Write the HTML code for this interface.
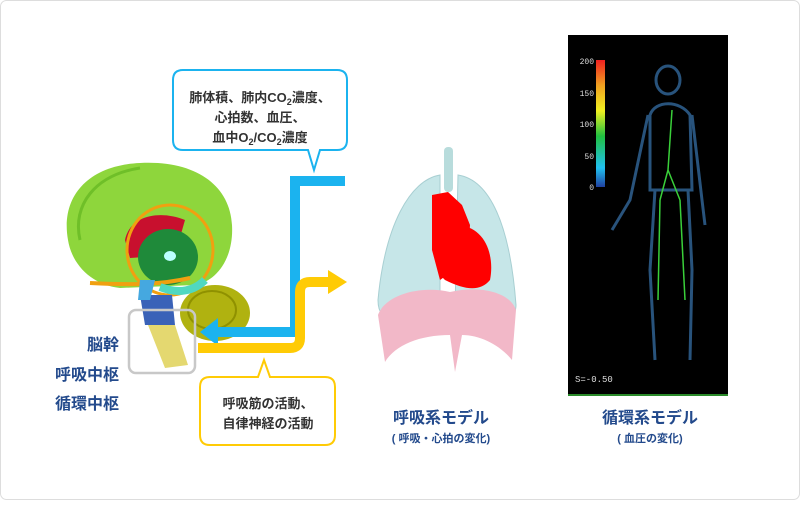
<!DOCTYPE html>
<html><head><meta charset="utf-8"><style>
html,body{margin:0;padding:0;background:#fff}
body{width:800px;height:500px;overflow:hidden;font-family:"Liberation Sans","Noto Sans CJK JP",sans-serif}
</style></head><body>
<svg width="800" height="500" xmlns="http://www.w3.org/2000/svg" font-family="Liberation Sans, Noto Sans CJK JP, sans-serif">
<rect x="0.5" y="0.5" width="799" height="499" rx="6" fill="#fff" stroke="#ddd"/>
<!-- brain -->
<ellipse cx="215" cy="313" rx="35" ry="28" fill="#b0b210"/>
<ellipse cx="212" cy="310" rx="24" ry="19" fill="none" stroke="#8f9100" stroke-width="2"/>
<path d="M68,240 C60,195 90,165 140,163 C195,160 230,185 232,225 C234,260 215,282 195,285 L120,288 C92,285 72,265 68,240Z" fill="#8ed63c"/>
<path d="M80,240 C72,205 95,175 140,168" fill="none" stroke="#6fbf28" stroke-width="3"/>
<path d="M125,240 C130,215 160,210 185,220 L175,255 L130,258Z" fill="#c8102e"/>
<ellipse cx="168" cy="257" rx="30" ry="28" fill="#1f8a3a"/>
<ellipse cx="170" cy="256" rx="6" ry="5" fill="#bff"/>
<path d="M90,283 C130,285 160,285 190,278" fill="none" stroke="#f0a010" stroke-width="4"/>
<ellipse cx="170" cy="250" rx="43" ry="45" fill="none" stroke="#f0a010" stroke-width="3"/>
<path d="M160,287 C180,295 195,290 205,280" fill="none" stroke="#50d8c0" stroke-width="8"/>
<path d="M140,295 L172,295 L175,325 L145,325Z" fill="#3a62b8"/>
<path d="M140,280 L155,280 L150,300 L138,300Z" fill="#45a8e0"/>
<path d="M148,325 L175,325 L188,365 L165,368Z" fill="#e4d870"/>
<rect x="129" y="310" width="66" height="63" rx="7" fill="none" stroke="#c8c8c8" stroke-width="2.5"/>
<!-- arrows -->
<path d="M345,181 L295,181 L295,332 L215,332" fill="none" stroke="#1bb3ef" stroke-width="10"/>
<polygon points="200,332 218,318 218,346" fill="#1bb3ef"/>
<path d="M198,348 L290,348 Q300,348 300,338 L300,292 Q300,282 310,282 L330,282" fill="none" stroke="#ffcb05" stroke-width="10"/>
<polygon points="347,282 328,270 328,294" fill="#ffcb05"/>
<!-- blue bubble -->
<path d="M183,70 L337,70 Q347,70 347,80 L347,140 Q347,150 337,150 L320,150 L314,170 L308,150 L183,150 Q173,150 173,140 L173,80 Q173,70 183,70Z" fill="#fff" stroke="#1bb3ef" stroke-width="2"/>
<g font-size="13" font-weight="bold" fill="#333" text-anchor="middle">
<text x="260" y="102">肺体積、肺内CO<tspan font-size="9" dy="3">2</tspan><tspan dy="-3">濃度、</tspan></text>
<text x="260" y="122">心拍数、血圧、</text>
<text x="260" y="142">血中O<tspan font-size="9" dy="3">2</tspan><tspan dy="-3">/CO</tspan><tspan font-size="9" dy="3">2</tspan><tspan dy="-3">濃度</tspan></text>
</g>
<!-- yellow bubble -->
<path d="M210,377 L258,377 L264,360 L270,377 L325,377 Q335,377 335,387 L335,435 Q335,445 325,445 L210,445 Q200,445 200,435 L200,387 Q200,377 210,377Z" fill="#fff" stroke="#ffcb05" stroke-width="2"/>
<g font-size="13" font-weight="bold" fill="#333" text-anchor="middle">
<text x="268" y="408">呼吸筋の活動、</text>
<text x="268" y="428">自律神経の活動</text>
</g>
<!-- left labels -->
<g font-size="16" font-weight="bold" fill="#234a8c" text-anchor="end">
<text x="119" y="350">脳幹</text>
<text x="119" y="380">呼吸中枢</text>
<text x="119" y="409">循環中枢</text>
</g>
<!-- lungs -->
<rect x="444" y="147" width="9" height="45" rx="4" fill="#b8dcdc"/>
<path d="M440,175 C410,180 385,225 378,300 C378,315 385,320 400,318 L440,310Z" fill="#c6e6e8" stroke="#a8cfd2"/>
<path d="M458,175 C490,180 510,225 516,305 C516,318 505,320 495,318 L455,310Z" fill="#c6e6e8" stroke="#a8cfd2"/>
<path d="M432,195 L448,192 L462,205 L470,225 L468,260 L440,280 L432,250Z" fill="#f00"/>
<path d="M455,225 C485,225 495,255 490,280 C480,292 465,290 445,280 L440,275Z" fill="#f00"/>
<path d="M378,315 C385,295 420,285 450,292 C480,285 510,292 516,310 L512,360 C500,345 480,335 462,335 L455,372 L450,335 C420,335 395,345 385,362Z" fill="#f2b8c8"/>
<!-- body panel -->
<rect x="568" y="35" width="160" height="361" fill="#000"/>
<rect x="568" y="394" width="160" height="2" fill="#2a8a2a"/>
<defs><linearGradient id="cb" x1="0" y1="1" x2="0" y2="0">
<stop offset="0" stop-color="#2040a0"/><stop offset="0.15" stop-color="#20c0f0"/><stop offset="0.4" stop-color="#20c040"/><stop offset="0.6" stop-color="#f0f020"/><stop offset="0.8" stop-color="#f0a020"/><stop offset="1" stop-color="#f02020"/></linearGradient></defs>
<rect x="596" y="60" width="9" height="127" fill="url(#cb)"/>
<g font-family="Liberation Mono, monospace" font-size="8" fill="#ddd" text-anchor="end">
<text x="594" y="64">200</text><text x="594" y="96">150</text><text x="594" y="127">100</text><text x="594" y="159">50</text><text x="594" y="190">0</text>
</g>
<text x="575" y="382" font-family="Liberation Mono, monospace" font-size="9" fill="#ddd">S=-0.50</text>
<g fill="none" stroke="#2d5c8a" stroke-width="3" opacity="0.9">
<ellipse cx="668" cy="80" rx="12" ry="14"/>
<path d="M650,115 C655,100 680,100 690,115 L692,190 L650,190Z"/>
<path d="M648,115 L630,200 L612,230"/><path d="M692,115 L702,200 L705,225"/>
<path d="M655,190 L650,270 L655,360"/><path d="M688,190 L692,270 L690,360"/>
</g>
<path d="M672,110 L668,170 L660,200 M668,170 L680,200 M660,200 L658,300 M680,200 L685,300" fill="none" stroke="#3ad03a" stroke-width="1.5"/>
<!-- captions -->
<g font-weight="bold" fill="#234a8c" text-anchor="middle">
<text x="441" y="423" font-size="16">呼吸系モデル</text>
<text x="441" y="442" font-size="11">( 呼吸・心拍の変化)</text>
<text x="650" y="423" font-size="16">循環系モデル</text>
<text x="650" y="442" font-size="11">( 血圧の変化)</text>
</g>
</svg>
</body></html>
